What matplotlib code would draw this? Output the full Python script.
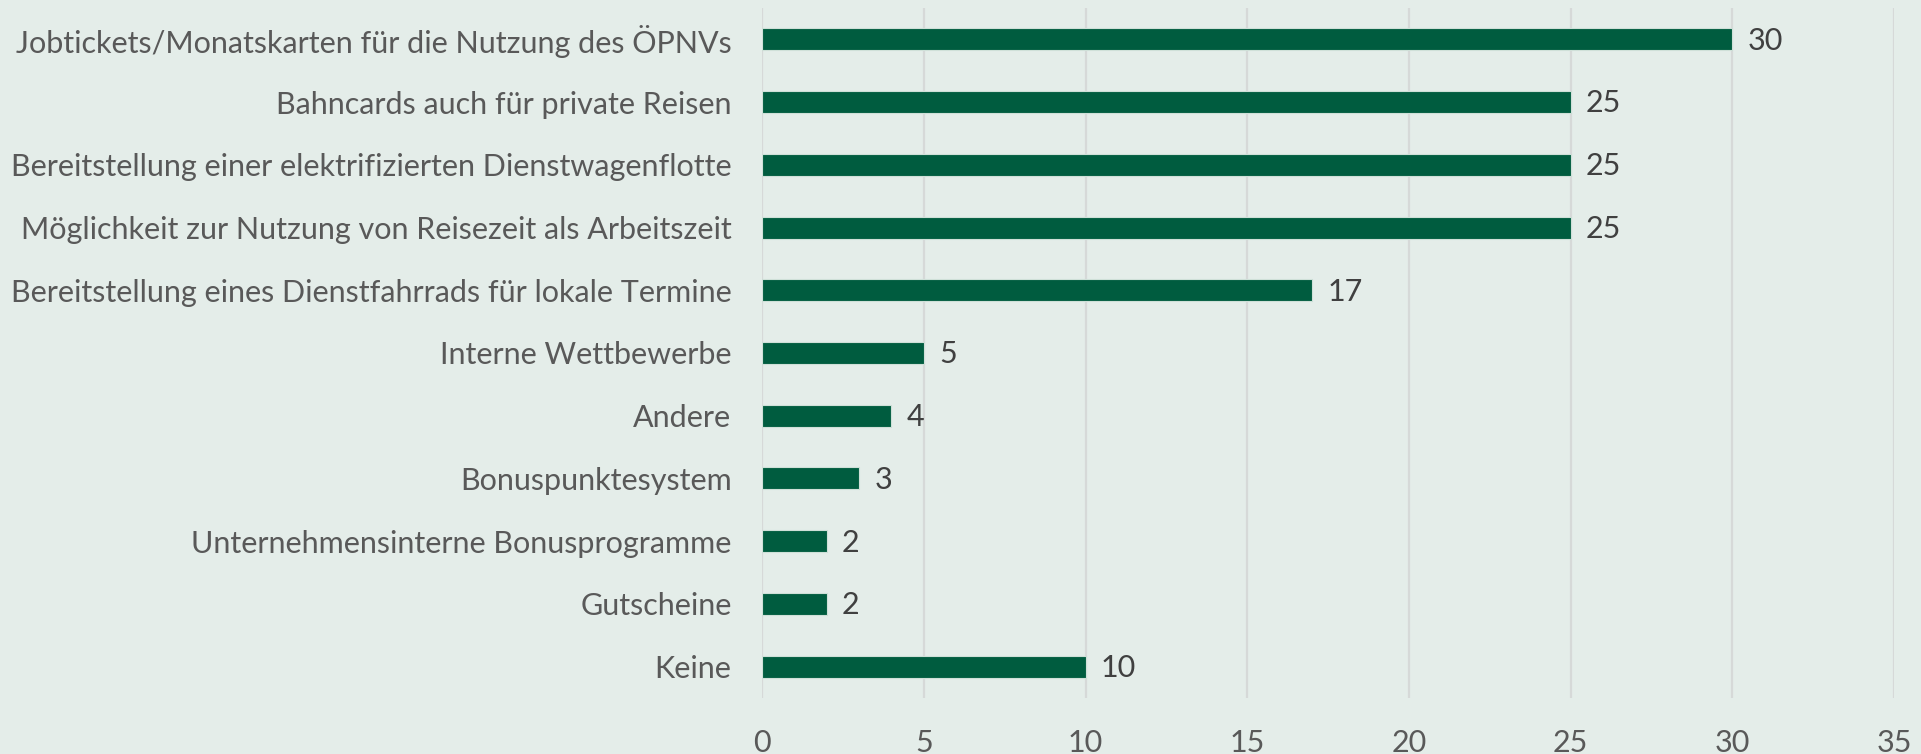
import matplotlib.pyplot as plt
import numpy as np

categories = [
    "Jobtickets/Monatskarten für die Nutzung des ÖPNVs",
    "Bahncards auch für private Reisen",
    "Bereitstellung einer elektrifizierten Dienstwagenflotte",
    "Möglichkeit zur Nutzung von Reisezeit als Arbeitszeit",
    "Bereitstellung eines Dienstfahrrads für lokale Termine",
    "Interne Wettbewerbe",
    "Andere",
    "Bonuspunktesystem",
    "Unternehmensinterne Bonusprogramme",
    "Gutscheine",
    "Keine",
]
values = [30, 25, 25, 25, 17, 5, 4, 3, 2, 2, 10]
x_ticks = [0, 5, 10, 15, 20, 25, 30, 35]

bg = "#E4EDE9"
bar_color = "#005C3F"

plt.rcParams['font.family'] = ['Lato', 'DejaVu Sans']

fig = plt.figure(figsize=(19.21, 7.54), dpi=100, facecolor=bg)
ax = fig.add_axes([0.3967, 0.0743, 0.5893, 0.9151], facecolor=bg)

y = np.arange(len(categories))
bars = ax.barh(y, values, height=0.35, color=bar_color,
               edgecolor="#CFE0D8", linewidth=0.8, zorder=3)

# value labels just right of each bar
for yi, v in zip(y, values):
    ax.annotate(str(v), (v, yi), xytext=(11, -1), textcoords="offset points",
                va="center", ha="left", fontsize=22, color="#404040")

ax.set_xlim(0, 35)
ax.set_ylim(len(categories) - 0.5, -0.5)
ax.set_xticks(x_ticks)
ax.set_yticks(y)
ax.set_yticklabels(categories)

ax.grid(axis="x", color="#D6D9D8", linewidth=1.6, zorder=0)
ax.tick_params(axis="x", length=0, pad=22, labelsize=22, labelcolor="#595959")
ax.tick_params(axis="y", length=0, pad=22, labelsize=22, labelcolor="#595959")
for s in ax.spines.values():
    s.set_visible(False)

fig.savefig("out.png", dpi=100, facecolor=bg)
